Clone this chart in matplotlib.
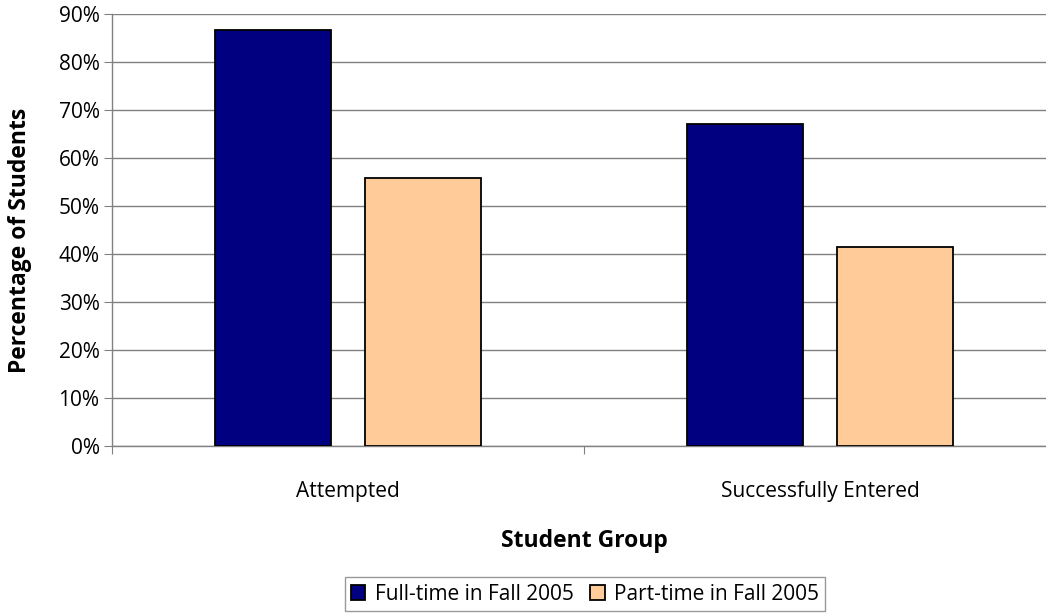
import matplotlib.pyplot as plt
import numpy as np

categories = ['Attempted', 'Successfully Entered']
full_time = [86.7, 67.1]
part_time = [55.8, 41.4]
series_names = ['Full-time in Fall 2005', 'Part-time in Fall 2005']
y_ticks = [0, 10, 20, 30, 40, 50, 60, 70, 80, 90]

plt.rcParams['font.family'] = ['Open Sans', 'DejaVu Sans']

fig = plt.figure(figsize=(10.46, 6.16), dpi=100)
ax = fig.add_axes([112 / 1046, 1 - 446 / 616, 944 / 1046, 432 / 616])

x = np.arange(len(categories))
width = 0.246
offset = 0.159
ax.bar(x - offset, full_time, width, color='#000080', edgecolor='black', linewidth=1.3,
       label=series_names[0], zorder=3)
ax.bar(x + offset, part_time, width, color='#FFCC99', edgecolor='black', linewidth=1.3,
       label=series_names[1], zorder=3)

ax.set_xlim(-0.5, 1.5)
ax.set_ylim(0, 90)
ax.set_yticks(y_ticks)
ax.set_yticklabels([f'{v}%' for v in y_ticks], fontsize=15)
ax.yaxis.grid(True, color='#808080', linewidth=1)
ax.set_axisbelow(True)

# category labels between boundary ticks
ax.set_xticks([-0.5, 0.5, 1.5])
ax.set_xticklabels([])
ax.set_xticks(x, minor=True)
ax.set_xticklabels(categories, minor=True, fontsize=15)
ax.tick_params(axis='x', which='minor', length=0, pad=25)
ax.tick_params(axis='x', which='major', length=6, color='#808080', direction='out')
ax.tick_params(axis='y', length=6, color='#808080', pad=3)

for s in ['top', 'right']:
    ax.spines[s].set_visible(False)
for s in ['left', 'bottom']:
    ax.spines[s].set_color('#808080')
    ax.spines[s].set_linewidth(1)

fig.text(20 / 1046, 1 - 240 / 616, 'Percentage of Students', fontsize=16.5, fontweight='bold',
         rotation=90, ha='center', va='center')
fig.text(584 / 1046, 1 - 541 / 616, 'Student Group', fontsize=16.5, fontweight='bold',
         ha='center', va='center')

leg = fig.legend(loc='center', bbox_to_anchor=(585 / 1046, 1 - 594 / 616), ncol=2,
                 fontsize=15, frameon=True, fancybox=False, edgecolor='#808080',
                 handlelength=0.7, handleheight=0.7, handletextpad=0.45, columnspacing=0.8,
                 borderpad=0.3)
leg.get_frame().set_linewidth(1)

fig.savefig('out.png', dpi=100)
